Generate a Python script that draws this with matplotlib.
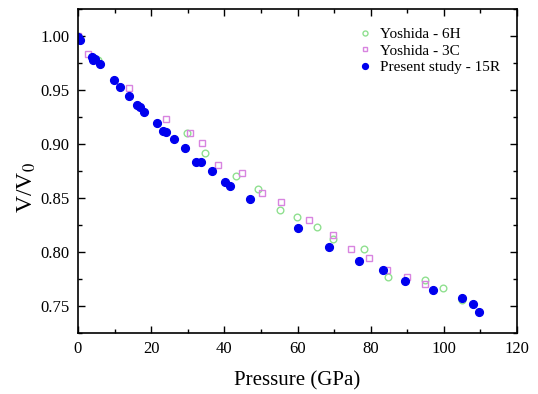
import matplotlib
matplotlib.use("Agg")
import matplotlib.pyplot as plt
from matplotlib.ticker import MultipleLocator

plt.rcParams['font.family'] = ['Liberation Serif', 'DejaVu Serif']
plt.rcParams['mathtext.fontset'] = 'stix'

# Yoshida - 6H (open green circles)
p_6h = [0.0, 5.4, 29.7, 34.7, 43.1, 49.3, 55.1, 59.9, 65.2, 69.7, 78.2, 84.7, 94.9, 99.9, 105.0]
v_6h = [1.000, 0.978, 0.910, 0.892, 0.870, 0.858, 0.839, 0.832, 0.823, 0.812, 0.803, 0.777, 0.774, 0.767, 0.756]

# Yoshida - 3C (open pink squares)
p_3c = [0.0, 2.8, 14.0, 24.1, 30.6, 34.0, 38.4, 44.8, 50.3, 55.4, 63.2, 69.7, 74.6, 79.6, 84.6, 89.8, 94.8]
v_3c = [1.000, 0.983, 0.952, 0.923, 0.910, 0.901, 0.881, 0.873, 0.855, 0.846, 0.830, 0.816, 0.803, 0.794, 0.783, 0.777, 0.770]

# Present study - 15R (filled blue circles)
p_15r = [0.0, 0.5, 3.9, 4.2, 4.6, 6.0, 9.9, 11.5, 14.0, 16.2, 17.0, 18.1, 21.7, 23.2, 24.0,
         26.2, 29.3, 32.3, 33.7, 36.5, 40.2, 41.6, 47.0, 60.2, 68.5, 76.7, 83.3, 89.4, 97.0,
         105.0, 108.1, 109.7]
v_15r = [0.999, 0.996, 0.981, 0.978, 0.979, 0.974, 0.959, 0.953, 0.944, 0.936, 0.934, 0.930, 0.919, 0.912, 0.911,
         0.905, 0.896, 0.883, 0.883, 0.875, 0.865, 0.861, 0.849, 0.822, 0.805, 0.792, 0.783, 0.773, 0.765,
         0.757, 0.752, 0.744]

fig = plt.figure(figsize=(5.38, 3.94), dpi=100)
ax = fig.add_axes([78 / 538, 1 - 333 / 394, (517 - 78) / 538, (333 - 9) / 394])

ax.plot(p_6h, v_6h, 'o', mfc='none', mec='#90e090', mew=1.0, ms=4.8, label='Yoshida - 6H')
ax.plot(p_3c, v_3c, 's', mfc='none', mec='#d884e0', mew=1.0, ms=4.4, label='Yoshida - 3C')
ax.plot(p_15r, v_15r, 'o', color='#0000ee', mec='#0000ee', ms=5.6, label='Present study - 15R')

ax.set_xlim(0, 120)
ax.set_ylim(0.725, 1.025)
ax.xaxis.set_major_locator(MultipleLocator(20))
ax.xaxis.set_minor_locator(MultipleLocator(10))
ax.yaxis.set_major_locator(MultipleLocator(0.05))
ax.yaxis.set_minor_locator(MultipleLocator(0.025))
ax.yaxis.set_major_formatter(matplotlib.ticker.FormatStrFormatter('%.2f'))
ax.tick_params(which='both', direction='in', top=True, right=True, labelsize=12, width=1.0)
ax.tick_params(which='major', length=5, pad=6)
ax.tick_params(which='minor', length=3)
for s in ax.spines.values():
    s.set_linewidth(1.2)

ax.set_xlabel('Pressure (GPa)', fontsize=15, labelpad=10)
ax.set_ylabel('V/V$_0$', fontsize=17)
ax.yaxis.set_label_coords(-0.09, 0.45)

ax.legend(loc='upper left', frameon=False, fontsize=11, markerscale=0.75,
          handletextpad=0.5, labelspacing=0.18, handlelength=1.0,
          borderpad=0, borderaxespad=0, bbox_to_anchor=(0.636, 0.943))

fig.savefig('out.png', dpi=100)
